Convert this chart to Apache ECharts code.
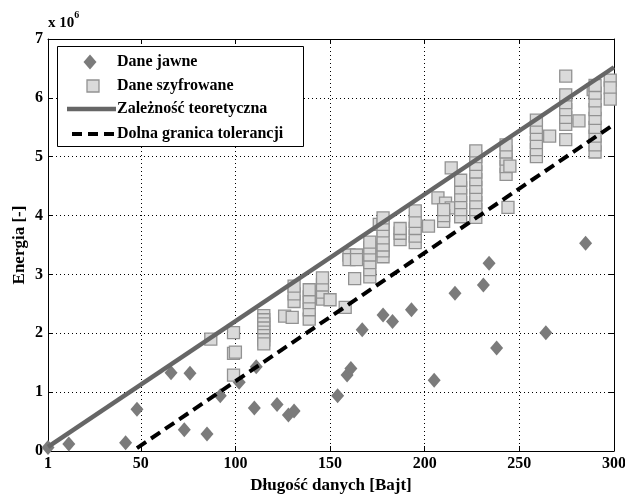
<!DOCTYPE html>
<html><head><meta charset="utf-8">
<script src="https://cdn.jsdelivr.net/npm/echarts@6/dist/echarts.min.js"></script>
<style>html,body{margin:0;padding:0;background:#fff}#c{width:625px;height:495px}</style>
</head><body><div id="c"></div>
<script>
const xTicks = [1, 50, 100, 150, 200, 250, 300];
const yTicks = [0, 1, 2, 3, 4, 5, 6, 7];
const seriesNames = ['Dane jawne', 'Dane szyfrowane', 'Zależność teoretyczna', 'Dolna granica tolerancji'];
// values in units of 10^6
const daneJawne = [[1,0.06],[12,0.12],[42,0.14],[48,0.71],[66,1.33],[76,1.32],[73,0.36],[85,0.29],[92,0.94],[102,1.17],[110,0.73],[111,1.43],[122,0.79],[128,0.61],[131,0.68],[154,0.94],[159,1.29],[161,1.40],[167,2.06],[178,2.31],[183,2.20],[193,2.40],[205,1.20],[216,2.68],[231,2.82],[234,3.19],[238,1.75],[264,2.01],[285,3.53]];
const daneSzyfrowane = [[87,1.90],[99,2.01],[99,1.66],[100,1.68],[99,1.29],
[115,2.30],[115,2.23],[115,2.16],[115,2.09],[115,2.02],[115,1.96],[115,1.89],[115,1.82],
[126,2.29],[130,2.27],[131,2.54],[131,2.67],[131,2.80],
[139,2.24],[139,2.40],[139,2.52],[139,2.62],[139,2.74],
[146,2.58],[146,2.70],[146,2.82],[146,2.94],[150,2.57],
[158,2.44],[163,2.93],[160,3.33],[164,3.33],[160,3.25],[164,3.25],
[171,2.96],[171,3.08],[171,3.20],[171,3.33],[171,3.45],[171,3.55],
[176,3.85],[178,3.30],[178,3.40],[178,3.50],[178,3.62],[178,3.74],[178,3.85],[178,3.96],
[187,3.59],[187,3.70],[187,3.78],
[195,3.54],[195,3.65],[195,3.78],[195,3.90],[195,4.08],
[202,3.82],[207,4.30],[211,4.21],[214,4.13],[210,3.90],[210,4.00],[210,4.10],[214,4.81],
[219,3.98],[219,4.10],[219,4.22],[219,4.34],[219,4.47],[219,4.60],
[227,3.97],[227,4.10],[227,4.22],[227,4.35],[227,4.48],[227,4.61],[227,4.74],[227,4.87],[227,5.00],[227,5.10],
[243,4.70],[243,4.83],[243,4.96],[243,5.08],[243,5.20],[245,4.84],[244,4.14],
[259,5.00],[259,5.12],[259,5.24],[259,5.38],[259,5.50],[259,5.62],[266,5.35],
[274.5,6.37],[274.5,5.29],[274.5,5.55],[274.5,5.67],[274.5,5.80],[274.5,5.92],[274.5,6.05],[281.5,5.61],
[289,6.14],[290,5.08],[290,5.20],[290,5.35],[290,5.50],[290,5.65],[290,5.80],[290,5.95],[290,6.08],[290,6.21],
[298,6.30],[298,6.17],[298,5.98]];
const zaleznosc = [[1,0.07],[300,6.52]];
const dolnaGranica = [[48,0.05],[300,5.55]];

const FONT = '"Liberation Serif", "Times New Roman", serif';
const FS = 16;
const DIAMOND = '#7b7b7b', SQ_FILL = '#dadada', SQ_EDGE = '#929292', LINE1 = '#666';
const chart = echarts.init(document.getElementById('c'), null, {renderer: 'canvas'});
const tickCommon = {inside: true, length: 5, lineStyle: {color: '#000', width: 1}};
const txt = {fontFamily: FONT, fontWeight: 'bold', fontSize: FS, fill: '#000'};
const legendRows = [62, 86, 109, 134];
const legendGraphic = [
  {type: 'rect', shape: {x: 57.5, y: 46.5, width: 246, height: 100}, style: {fill: '#fff', stroke: '#000', lineWidth: 1}, z: 100},
  {type: 'polygon', shape: {points: [[90, legendRows[0]-7.5], [96.5, legendRows[0]], [90, legendRows[0]+7.5], [83.5, legendRows[0]]]}, style: {fill: DIAMOND}, z: 101},
  {type: 'rect', shape: {x: 87, y: legendRows[1]-6, width: 12, height: 12}, style: {fill: SQ_FILL, stroke: SQ_EDGE, lineWidth: 1.3}, z: 101},
  {type: 'line', shape: {x1: 67, y1: legendRows[2], x2: 116, y2: legendRows[2]}, style: {stroke: LINE1, lineWidth: 4.5}, z: 101},
  {type: 'line', shape: {x1: 72, y1: legendRows[3], x2: 116, y2: legendRows[3]}, style: {stroke: '#000', lineWidth: 4, lineDash: [10, 6]}, z: 101}
];
seriesNames.forEach((n, i) => legendGraphic.push({
  type: 'text', x: 117, y: legendRows[i], z: 101,
  style: Object.assign({text: n, textVerticalAlign: 'middle', verticalAlign: 'middle'}, txt)
}));
legendGraphic.push({
  type: 'text', x: 48, y: 10, z: 101,
  style: {text: '{a|x 10}{b|6}', fill: '#000', rich: {
    a: {fontFamily: FONT, fontWeight: 'bold', fontSize: 15, padding: [6, 0, 0, 0]},
    b: {fontFamily: FONT, fontWeight: 'bold', fontSize: 10, verticalAlign: 'top'}
  }}
});
chart.setOption({
  animation: false,
  grid: {left: 48, right: 11, top: 39, bottom: 44, show: false, containLabel: false, outerBoundsMode: 'none'},
  graphic: legendGraphic,
  xAxis: [{
    type: 'value', min: 1, max: 300, position: 'bottom',
    name: 'Długość danych [Bajt]', nameLocation: 'middle', nameGap: 25,
    nameTextStyle: {fontFamily: FONT, fontWeight: 'bold', fontSize: 17, color: '#000'},
    axisLine: {show: true, lineStyle: {color: '#000', width: 1}},
    axisTick: Object.assign({customValues: xTicks}, tickCommon),
    axisLabel: {customValues: xTicks, fontFamily: FONT, fontWeight: 'bold', fontSize: FS, color: '#000', margin: 5},
    splitLine: {show: true, lineStyle: {color: '#000', type: [1, 3], width: 1}}
  }, {
    type: 'value', min: 1, max: 300, position: 'top',
    axisLine: {show: true, onZero: false, lineStyle: {color: '#000', width: 1}},
    axisTick: Object.assign({customValues: xTicks}, tickCommon),
    axisLabel: {show: false}, splitLine: {show: false}
  }],
  yAxis: [{
    type: 'value', min: 0, max: 7, interval: 1, position: 'left',
    name: 'Energia [-]', nameLocation: 'middle', nameGap: 20, nameMoveOverlap: false,
    nameTextStyle: {fontFamily: FONT, fontWeight: 'bold', fontSize: 17, color: '#000'},
    axisLine: {show: true, lineStyle: {color: '#000', width: 1}},
    axisTick: tickCommon,
    axisLabel: {fontFamily: FONT, fontWeight: 'bold', fontSize: FS, color: '#000', margin: 5,
      formatter: v => yTicks.indexOf(v) >= 0 ? String(v) : ''},
    splitLine: {show: true, lineStyle: {color: '#000', type: [1, 3], width: 1}}
  }, {
    type: 'value', min: 0, max: 7, interval: 1, position: 'right',
    axisLine: {show: true, onZero: false, lineStyle: {color: '#000', width: 1}},
    axisTick: tickCommon, axisLabel: {show: false}, splitLine: {show: false}
  }],
  series: [{
    name: seriesNames[0], type: 'scatter', symbol: 'diamond', symbolSize: [13, 15],
    itemStyle: {color: DIAMOND, opacity: 1}, data: daneJawne, z: 2
  }, {
    name: seriesNames[1], type: 'scatter', symbol: 'rect', symbolSize: 12,
    itemStyle: {color: SQ_FILL, borderColor: SQ_EDGE, borderWidth: 1.3, opacity: 1}, data: daneSzyfrowane, z: 3
  }, {
    name: seriesNames[2], type: 'line', symbol: 'none', data: zaleznosc,
    lineStyle: {color: LINE1, width: 4.5}, itemStyle: {color: LINE1}, z: 4
  }, {
    name: seriesNames[3], type: 'line', symbol: 'none', data: dolnaGranica,
    lineStyle: {color: '#000', width: 4, type: [11, 6]}, itemStyle: {color: '#000'}, z: 5
  }]
});
</script></body></html>
